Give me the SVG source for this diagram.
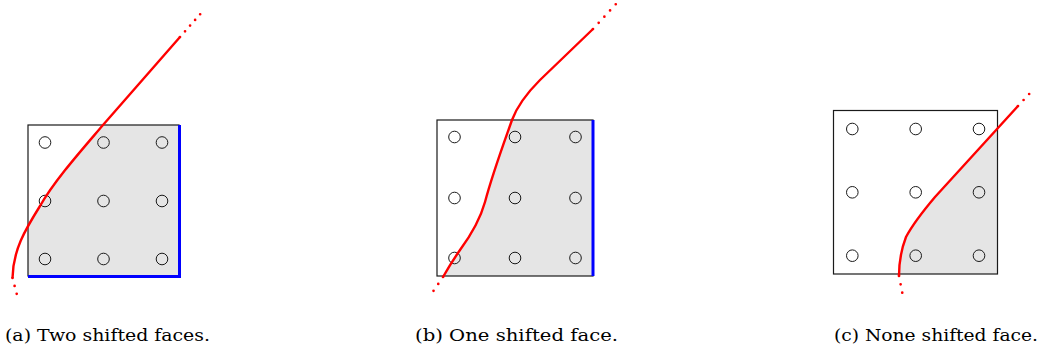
<svg xmlns="http://www.w3.org/2000/svg" width="1043" height="354" viewBox="0 0 1043 354">
<style>
.box{fill:none;stroke:#1a1a1a;stroke-width:1.2}
.shade{fill:#e5e5e5;stroke:none}
.pt{fill:none;stroke:#1a1a1a;stroke-width:1}
.curve{fill:none;stroke:#ff0000;stroke-width:2.4;stroke-linejoin:round}
.dots{fill:none;stroke:#ff0000;stroke-width:2.7;stroke-linecap:round}
.face{stroke:#0000ff;stroke-width:3;fill:none}
.cap{font-family:"DejaVu Serif","Liberation Serif",serif;font-size:16.5px;fill:#000}
</style>
<defs>
<clipPath id="clipA"><rect x="28" y="125" width="151" height="151"/></clipPath>
<clipPath id="clipB"><rect x="437" y="120" width="156" height="156"/></clipPath>
<clipPath id="clipC"><rect x="833.5" y="110.5" width="164" height="163.5"/></clipPath>
</defs>
<rect width="1043" height="354" fill="#ffffff"/>

<g id="panel-a">
<path class="shade" clip-path="url(#clipA)" d="M180,37 L103,125 C80,152 55,180 40,206 C25,230 13,250 12.5,278 L12.5,300 L300,300 L300,0 Z"/>
<rect class="box" x="28" y="125" width="151" height="151"/>
<g>
<circle class="pt" cx="45" cy="142.5" r="5.8"/><circle class="pt" cx="103.5" cy="142.5" r="5.8"/><circle class="pt" cx="162" cy="142.5" r="5.8"/>
<circle class="pt" cx="45" cy="201" r="5.8"/><circle class="pt" cx="103.5" cy="201" r="5.8"/><circle class="pt" cx="162" cy="201" r="5.8"/>
<circle class="pt" cx="45" cy="259" r="5.8"/><circle class="pt" cx="103.5" cy="259" r="5.8"/><circle class="pt" cx="162" cy="259" r="5.8"/>
</g>
<path class="face" d="M179.5,125 L179.5,276.5 M28,276.5 L181,276.5"/>
<path class="curve" d="M180,37 L103,125 C80,152 55,180 40,206 C25,230 13,250 12.5,278"/>
<path class="dots" stroke-dasharray="0 7.6" d="M180,37 L203,11"/>
<path class="dots" stroke-dasharray="0 8.2" d="M12.5,278 L17,295"/>
<text class="cap" x="5" y="341" textLength="205" lengthAdjust="spacingAndGlyphs">(a) Two shifted faces.</text>
</g>

<g id="panel-b">
<path class="shade" clip-path="url(#clipB)" d="M593,29 L540,80 C528,92 518,104 512,120 C505,140 493,172 485,202 C480,220 471,235 460,250 C453,260 447,270 443,277 L443,300 L700,300 L700,0 Z"/>
<rect class="box" x="437" y="120" width="156" height="156"/>
<g>
<circle class="pt" cx="454.5" cy="137" r="5.8"/><circle class="pt" cx="515" cy="137" r="5.8"/><circle class="pt" cx="575.5" cy="137" r="5.8"/>
<circle class="pt" cx="454.5" cy="198" r="5.8"/><circle class="pt" cx="515" cy="198" r="5.8"/><circle class="pt" cx="575.5" cy="198" r="5.8"/>
<circle class="pt" cx="454.5" cy="258" r="5.8"/><circle class="pt" cx="515" cy="258" r="5.8"/><circle class="pt" cx="575.5" cy="258" r="5.8"/>
</g>
<path class="face" d="M593,120 L593,276"/>
<path class="curve" d="M593,29 L540,80 C528,92 518,104 512,120 C505,140 493,172 485,202 C480,220 471,235 460,250 C453,260 447,270 443,277"/>
<path class="dots" stroke-dasharray="0 8.4" d="M593,29 L616,4"/>
<path class="dots" stroke-dasharray="0 8.4" d="M443,277 L429,297.5"/>
<text class="cap" x="415" y="341" textLength="203" lengthAdjust="spacingAndGlyphs">(b) One shifted face.</text>
</g>

<g id="panel-c">
<path class="shade" clip-path="url(#clipC)" d="M1018,106 L935,197 C924,210 914,222 906,237 C901,250 899,262 899,276 L899,300 L1043,300 L1043,0 Z"/>
<rect class="box" x="833.5" y="110.5" width="164" height="163.5"/>
<g>
<circle class="pt" cx="852.3" cy="129" r="5.8"/><circle class="pt" cx="915.7" cy="129" r="5.8"/><circle class="pt" cx="979" cy="129" r="5.8"/>
<circle class="pt" cx="852.3" cy="192.3" r="5.8"/><circle class="pt" cx="915.7" cy="192.3" r="5.8"/><circle class="pt" cx="979" cy="192.3" r="5.8"/>
<circle class="pt" cx="852.3" cy="255.7" r="5.8"/><circle class="pt" cx="915.7" cy="255.7" r="5.8"/><circle class="pt" cx="979" cy="255.7" r="5.8"/>
</g>
<path class="curve" d="M1018,106 L935,197 C924,210 914,222 906,237 C901,250 899,262 899,276"/>
<path class="dots" stroke-dasharray="0 8.2" d="M1018,106 L1031,92"/>
<path class="dots" stroke-dasharray="0 8.5" d="M899,276 L902.5,294"/>
<text class="cap" x="834" y="341" textLength="204" lengthAdjust="spacingAndGlyphs">(c) None shifted face.</text>
</g>
</svg>
